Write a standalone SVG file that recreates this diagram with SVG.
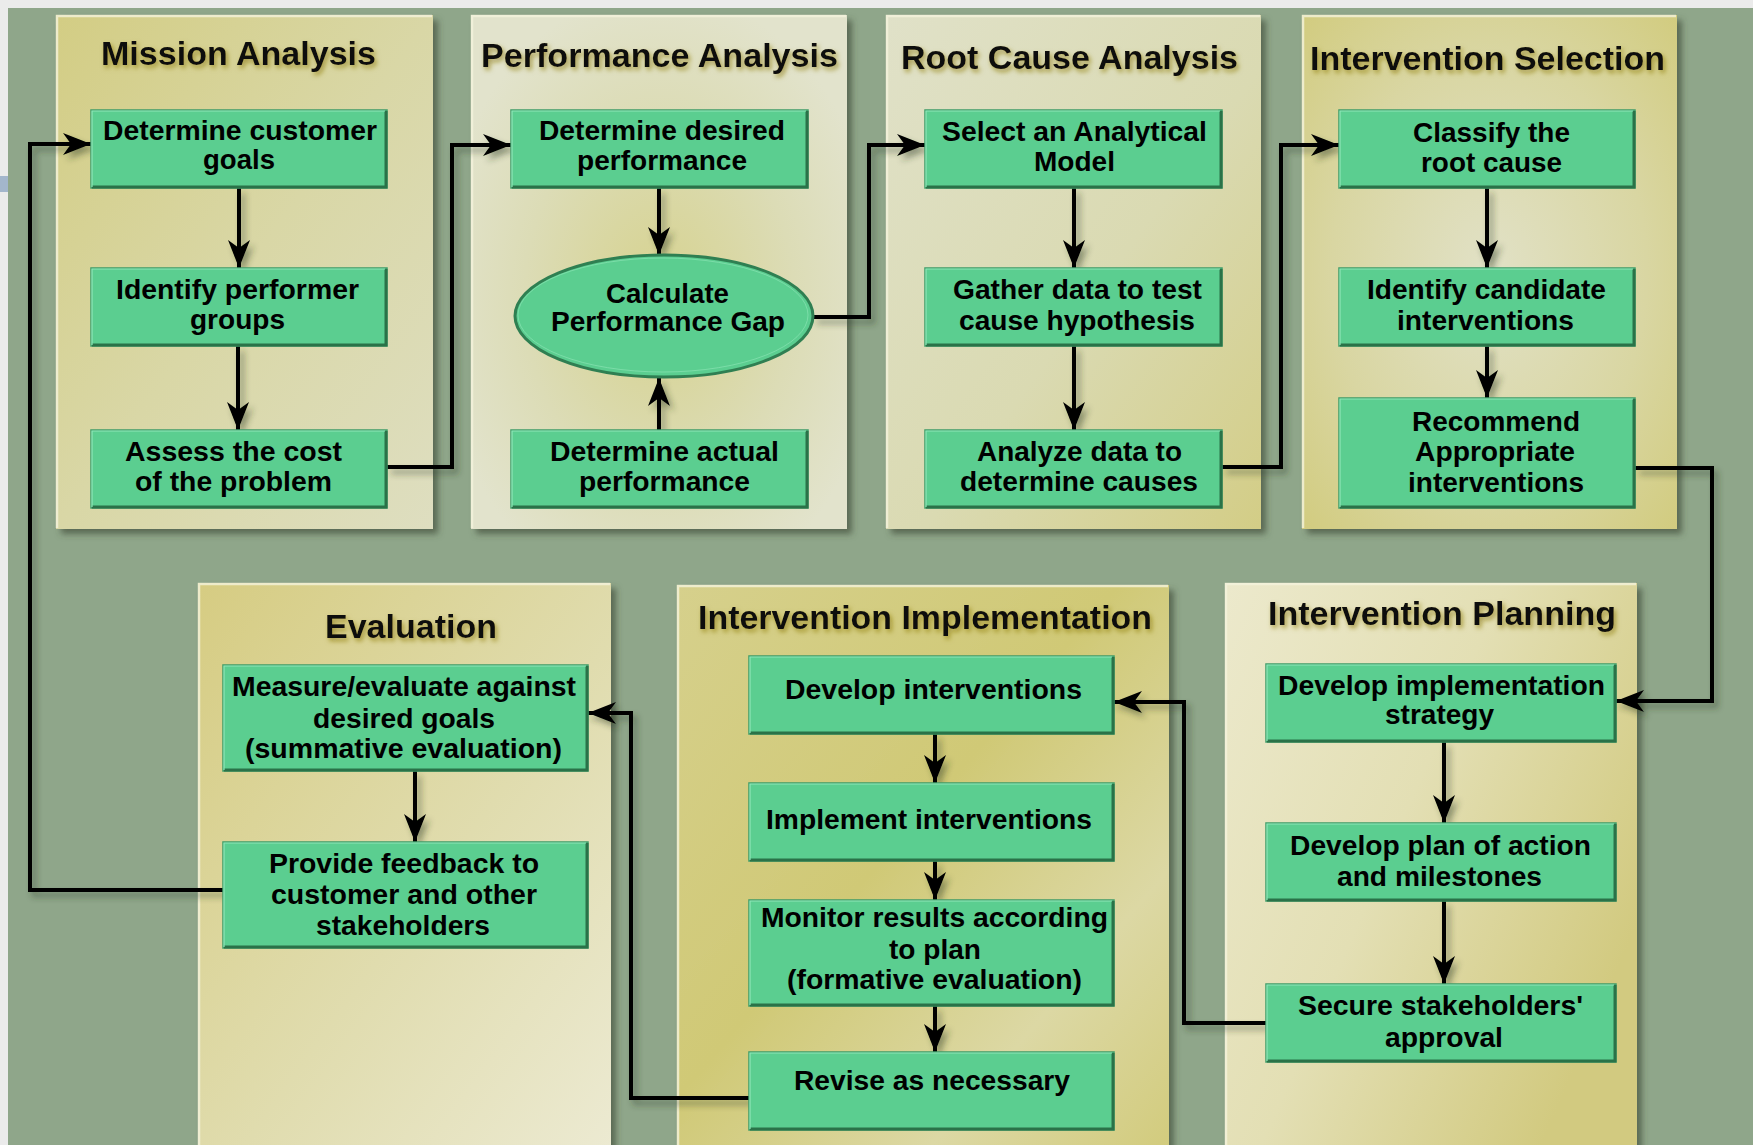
<svg xmlns="http://www.w3.org/2000/svg" width="1753" height="1145" viewBox="0 0 1753 1145">
<defs>
<style>
.bg{fill:#8fa68a}
.panel{stroke:none}
.bevel{fill:none;stroke:#f4f2dc;stroke-width:2.5;opacity:.8}
.box{fill:#5bce90;stroke:#3f9c68;stroke-width:1.5}
.edge{fill:none;stroke:#2a7248;stroke-width:3}
.hl{fill:none;stroke:#8fe6b8;stroke-width:1.2}
.t{font-family:"Liberation Sans",Arial,Helvetica,sans-serif;font-weight:bold;font-size:27px;fill:#000}
.title{font-family:"Liberation Sans",Arial,Helvetica,sans-serif;font-weight:bold;font-size:34px;fill:#111}
.c{fill:none;stroke:#000;stroke-width:4;stroke-linejoin:miter;marker-end:url(#ah)}
.cn{fill:none;stroke:#000;stroke-width:4;stroke-linejoin:miter}
</style>
<marker id="ah" markerUnits="userSpaceOnUse" viewBox="-30 -12 32 24" refX="0" refY="0" markerWidth="32" markerHeight="24" orient="auto">
<path d="M0,0 L-28,-11 L-20,0 L-28,11 Z" fill="#000"/>
</marker>
<filter id="psh" x="-5%" y="-5%" width="115%" height="115%">
<feDropShadow dx="5" dy="5" stdDeviation="3" flood-color="#3c4a34" flood-opacity="0.65"/>
</filter>
<filter id="lsh" x="-10%" y="-10%" width="120%" height="120%">
<feDropShadow dx="4" dy="5" stdDeviation="3" flood-color="#2e3a28" flood-opacity="0.45"/>
</filter>
<filter id="tsh" x="-10%" y="-30%" width="120%" height="160%">
<feDropShadow dx="2" dy="3" stdDeviation="2.5" flood-color="#8c7a0e" flood-opacity="0.7"/>
</filter>
<linearGradient id="gMission" x1="0" y1="0" x2="1" y2="1">
<stop offset="0" stop-color="#d3cd84"/><stop offset="0.5" stop-color="#d9d7a6"/><stop offset="1" stop-color="#dedec0"/>
</linearGradient>
<radialGradient id="gPerf" cx="0.5" cy="0.55" r="0.6">
<stop offset="0" stop-color="#d6d28e"/><stop offset="0.6" stop-color="#dcdcb6"/><stop offset="1" stop-color="#e2e3cc"/>
</radialGradient>
<linearGradient id="gRoot" x1="0" y1="0" x2="1" y2="1">
<stop offset="0" stop-color="#e0e1c8"/><stop offset="0.55" stop-color="#dadab2"/><stop offset="1" stop-color="#d3cd86"/>
</linearGradient>
<radialGradient id="gSel" cx="0.5" cy="0.5" r="0.7">
<stop offset="0" stop-color="#e1e1c6"/><stop offset="0.6" stop-color="#d9d6a2"/><stop offset="1" stop-color="#d2cc80"/>
</radialGradient>
<linearGradient id="gEval" x1="0" y1="0" x2="1" y2="1">
<stop offset="0" stop-color="#d6cc82"/><stop offset="0.55" stop-color="#e0dcae"/><stop offset="1" stop-color="#ecead2"/>
</linearGradient>
<linearGradient id="gImpl" x1="0" y1="0" x2="1" y2="1">
<stop offset="0" stop-color="#d6d08c"/><stop offset="0.45" stop-color="#d0c976"/><stop offset="0.75" stop-color="#dcd8a4"/><stop offset="1" stop-color="#d2cb7c"/>
</linearGradient>
<linearGradient id="gPlan" x1="0" y1="0" x2="1" y2="0.6">
<stop offset="0" stop-color="#ece9cc"/><stop offset="0.5" stop-color="#e3dfb4"/><stop offset="1" stop-color="#d2ca80"/>
</linearGradient>
</defs>

<rect class="bg" x="0" y="0" width="1753" height="1145"/>
<rect x="0" y="0" width="1753" height="8" fill="#ebebeb"/>
<rect x="0" y="0" width="8" height="1145" fill="#ebebeb"/>
<rect x="0" y="176" width="8" height="16" fill="#a3b6cc"/>

<g id="panels">
<g id="panel-mission" filter="url(#psh)"><rect class="panel" x="56" y="15" width="377" height="514" fill="url(#gMission)"/></g>
<g id="panel-performance" filter="url(#psh)"><rect class="panel" x="471" y="15" width="376" height="514" fill="url(#gPerf)"/></g>
<g id="panel-rootcause" filter="url(#psh)"><rect class="panel" x="886" y="15" width="375" height="514" fill="url(#gRoot)"/></g>
<g id="panel-selection" filter="url(#psh)"><rect class="panel" x="1302" y="15" width="375" height="514" fill="url(#gSel)"/></g>
<g id="panel-evaluation" filter="url(#psh)"><rect class="panel" x="198" y="583" width="413" height="570" fill="url(#gEval)"/></g>
<g id="panel-implementation" filter="url(#psh)"><rect class="panel" x="677" y="585" width="492" height="570" fill="url(#gImpl)"/></g>
<g id="panel-planning" filter="url(#psh)"><rect class="panel" x="1225" y="583" width="412" height="570" fill="url(#gPlan)"/></g>
<path class="bevel" d="M57,528 V16 H432 M472,528 V16 H846 M887,528 V16 H1260 M1303,528 V16 H1676 M199,1145 V584 H610 M678,1145 V586 H1168 M1226,1145 V584 H1636"/>
</g>

<g id="titles" filter="url(#tsh)">
<text class="title" x="101" y="65" textLength="275" lengthAdjust="spacingAndGlyphs">Mission Analysis</text>
<text class="title" x="481" y="67" textLength="357" lengthAdjust="spacingAndGlyphs">Performance Analysis</text>
<text class="title" x="901" y="69" textLength="337" lengthAdjust="spacingAndGlyphs">Root Cause Analysis</text>
<text class="title" x="1310" y="70" textLength="355" lengthAdjust="spacingAndGlyphs">Intervention Selection</text>
<text class="title" x="325" y="638" textLength="172" lengthAdjust="spacingAndGlyphs">Evaluation</text>
<text class="title" x="698" y="629" textLength="454" lengthAdjust="spacingAndGlyphs">Intervention Implementation</text>
<text class="title" x="1268" y="625" textLength="348" lengthAdjust="spacingAndGlyphs">Intervention Planning</text>
</g>

<g id="connectors" filter="url(#lsh)">
<path class="c" d="M239,188 V268"/>
<path class="c" d="M238,346 V430"/>
<path class="c" d="M387,467 H452 V145 H511"/>
<path class="c" d="M659,188 V255"/>
<path class="c" d="M659,430 V378"/>
<path class="c" d="M813,317 H869 V145 H925"/>
<path class="c" d="M1074,188 V268"/>
<path class="c" d="M1074,346 V430"/>
<path class="c" d="M1222,467 H1281 V145 H1339"/>
<path class="c" d="M1487,188 V268"/>
<path class="c" d="M1487,346 V398"/>
<path class="c" d="M1635,468 H1712 V701 H1616"/>
<path class="c" d="M1444,742 V823"/>
<path class="c" d="M1444,901 V984"/>
<path class="c" d="M1266,1023 H1184 V702 H1114"/>
<path class="c" d="M935,734 V783"/>
<path class="c" d="M935,861 V900"/>
<path class="c" d="M935,1006 V1052"/>
<path class="c" d="M749,1098 H631 V713 H588"/>
<path class="c" d="M415,771 V842"/>
<path class="c" d="M223,890 H30 V144 H91"/>
</g>

<g id="n-customer-goals">
<rect class="box" x="91" y="110" width="296" height="78"/><path class="edge" d="M92,187 H386 V111"/><path class="hl" d="M92,187 V111 H385"/>
<text class="t" x="103" y="140" textLength="274" lengthAdjust="spacingAndGlyphs">Determine customer</text>
<text class="t" x="203" y="169" textLength="72" lengthAdjust="spacingAndGlyphs">goals</text>
</g>
<g id="n-performer-groups">
<rect class="box" x="91" y="268" width="296" height="78"/><path class="edge" d="M92,345 H386 V269"/><path class="hl" d="M92,345 V269 H385"/>
<text class="t" x="116" y="299" textLength="243" lengthAdjust="spacingAndGlyphs">Identify performer</text>
<text class="t" x="190" y="329" textLength="95" lengthAdjust="spacingAndGlyphs">groups</text>
</g>
<g id="n-assess-cost">
<rect class="box" x="91" y="430" width="296" height="78"/><path class="edge" d="M92,507 H386 V431"/><path class="hl" d="M92,507 V431 H385"/>
<text class="t" x="125" y="461" textLength="217" lengthAdjust="spacingAndGlyphs">Assess the cost</text>
<text class="t" x="135" y="491" textLength="197" lengthAdjust="spacingAndGlyphs">of the problem</text>
</g>

<g id="n-desired-performance">
<rect class="box" x="511" y="110" width="297" height="78"/><path class="edge" d="M512,187 H807 V111"/><path class="hl" d="M512,187 V111 H806"/>
<text class="t" x="539" y="140" textLength="246" lengthAdjust="spacingAndGlyphs">Determine desired</text>
<text class="t" x="577" y="170" textLength="170" lengthAdjust="spacingAndGlyphs">performance</text>
</g>
<g id="n-performance-gap">
<ellipse cx="664" cy="316" rx="149" ry="61" fill="#5bce90" stroke="#2f7f52" stroke-width="3"/>
<ellipse cx="663" cy="315" rx="145" ry="57" fill="none" stroke="#8fe6b8" stroke-width="1" opacity="0.6"/>
<text class="t" x="606" y="303" textLength="123" lengthAdjust="spacingAndGlyphs">Calculate</text>
<text class="t" x="551" y="331" textLength="234" lengthAdjust="spacingAndGlyphs">Performance Gap</text>
</g>
<g id="n-actual-performance">
<rect class="box" x="511" y="430" width="297" height="78"/><path class="edge" d="M512,507 H807 V431"/><path class="hl" d="M512,507 V431 H806"/>
<text class="t" x="550" y="461" textLength="229" lengthAdjust="spacingAndGlyphs">Determine actual</text>
<text class="t" x="579" y="491" textLength="171" lengthAdjust="spacingAndGlyphs">performance</text>
</g>

<g id="n-analytical-model">
<rect class="box" x="925" y="110" width="297" height="78"/><path class="edge" d="M926,187 H1221 V111"/><path class="hl" d="M926,187 V111 H1220"/>
<text class="t" x="942" y="141" textLength="265" lengthAdjust="spacingAndGlyphs">Select an Analytical</text>
<text class="t" x="1034" y="171" textLength="81" lengthAdjust="spacingAndGlyphs">Model</text>
</g>
<g id="n-gather-data">
<rect class="box" x="925" y="268" width="297" height="78"/><path class="edge" d="M926,345 H1221 V269"/><path class="hl" d="M926,345 V269 H1220"/>
<text class="t" x="953" y="299" textLength="249" lengthAdjust="spacingAndGlyphs">Gather data to test</text>
<text class="t" x="959" y="330" textLength="236" lengthAdjust="spacingAndGlyphs">cause hypothesis</text>
</g>
<g id="n-analyze-data">
<rect class="box" x="925" y="430" width="297" height="78"/><path class="edge" d="M926,507 H1221 V431"/><path class="hl" d="M926,507 V431 H1220"/>
<text class="t" x="977" y="461" textLength="205" lengthAdjust="spacingAndGlyphs">Analyze data to</text>
<text class="t" x="960" y="491" textLength="238" lengthAdjust="spacingAndGlyphs">determine causes</text>
</g>

<g id="n-classify-root">
<rect class="box" x="1339" y="110" width="296" height="78"/><path class="edge" d="M1340,187 H1634 V111"/><path class="hl" d="M1340,187 V111 H1633"/>
<text class="t" x="1413" y="142" textLength="157" lengthAdjust="spacingAndGlyphs">Classify the</text>
<text class="t" x="1421" y="172" textLength="141" lengthAdjust="spacingAndGlyphs">root cause</text>
</g>
<g id="n-candidate-interventions">
<rect class="box" x="1339" y="268" width="296" height="78"/><path class="edge" d="M1340,345 H1634 V269"/><path class="hl" d="M1340,345 V269 H1633"/>
<text class="t" x="1367" y="299" textLength="239" lengthAdjust="spacingAndGlyphs">Identify candidate</text>
<text class="t" x="1397" y="330" textLength="177" lengthAdjust="spacingAndGlyphs">interventions</text>
</g>
<g id="n-recommend">
<rect class="box" x="1339" y="398" width="296" height="110"/><path class="edge" d="M1340,507 H1634 V399"/><path class="hl" d="M1340,507 V399 H1633"/>
<text class="t" x="1412" y="431" textLength="168" lengthAdjust="spacingAndGlyphs">Recommend</text>
<text class="t" x="1415" y="461" textLength="160" lengthAdjust="spacingAndGlyphs">Appropriate</text>
<text class="t" x="1408" y="492" textLength="176" lengthAdjust="spacingAndGlyphs">interventions</text>
</g>

<g id="n-measure">
<rect class="box" x="223" y="665" width="365" height="106"/><path class="edge" d="M224,770 H587 V666"/><path class="hl" d="M224,770 V666 H586"/>
<text class="t" x="232" y="696" textLength="344" lengthAdjust="spacingAndGlyphs">Measure/evaluate against</text>
<text class="t" x="313" y="728" textLength="182" lengthAdjust="spacingAndGlyphs">desired goals</text>
<text class="t" x="245" y="758" textLength="317" lengthAdjust="spacingAndGlyphs">(summative evaluation)</text>
</g>
<g id="n-feedback">
<rect class="box" x="223" y="842" width="365" height="106"/><path class="edge" d="M224,947 H587 V843"/><path class="hl" d="M224,947 V843 H586"/>
<text class="t" x="269" y="873" textLength="270" lengthAdjust="spacingAndGlyphs">Provide feedback to</text>
<text class="t" x="271" y="904" textLength="266" lengthAdjust="spacingAndGlyphs">customer and other</text>
<text class="t" x="316" y="935" textLength="174" lengthAdjust="spacingAndGlyphs">stakeholders</text>
</g>

<g id="n-develop-interventions">
<rect class="box" x="749" y="656" width="365" height="78"/><path class="edge" d="M750,733 H1113 V657"/><path class="hl" d="M750,733 V657 H1112"/>
<text class="t" x="785" y="699" textLength="297" lengthAdjust="spacingAndGlyphs">Develop interventions</text>
</g>
<g id="n-implement">
<rect class="box" x="749" y="783" width="365" height="78"/><path class="edge" d="M750,860 H1113 V784"/><path class="hl" d="M750,860 V784 H1112"/>
<text class="t" x="766" y="829" textLength="326" lengthAdjust="spacingAndGlyphs">Implement interventions</text>
</g>
<g id="n-monitor">
<rect class="box" x="749" y="900" width="365" height="106"/><path class="edge" d="M750,1005 H1113 V901"/><path class="hl" d="M750,1005 V901 H1112"/>
<text class="t" x="761" y="927" textLength="347" lengthAdjust="spacingAndGlyphs">Monitor results according</text>
<text class="t" x="889" y="959" textLength="92" lengthAdjust="spacingAndGlyphs">to plan</text>
<text class="t" x="787" y="989" textLength="295" lengthAdjust="spacingAndGlyphs">(formative evaluation)</text>
</g>
<g id="n-revise">
<rect class="box" x="749" y="1052" width="365" height="78"/><path class="edge" d="M750,1129 H1113 V1053"/><path class="hl" d="M750,1129 V1053 H1112"/>
<text class="t" x="794" y="1090" textLength="276" lengthAdjust="spacingAndGlyphs">Revise as necessary</text>
</g>

<g id="n-impl-strategy">
<rect class="box" x="1266" y="664" width="350" height="78"/><path class="edge" d="M1267,741 H1615 V665"/><path class="hl" d="M1267,741 V665 H1614"/>
<text class="t" x="1278" y="695" textLength="327" lengthAdjust="spacingAndGlyphs">Develop implementation</text>
<text class="t" x="1385" y="724" textLength="109" lengthAdjust="spacingAndGlyphs">strategy</text>
</g>
<g id="n-plan-action">
<rect class="box" x="1266" y="823" width="350" height="78"/><path class="edge" d="M1267,900 H1615 V824"/><path class="hl" d="M1267,900 V824 H1614"/>
<text class="t" x="1290" y="855" textLength="301" lengthAdjust="spacingAndGlyphs">Develop plan of action</text>
<text class="t" x="1337" y="886" textLength="205" lengthAdjust="spacingAndGlyphs">and milestones</text>
</g>
<g id="n-secure-approval">
<rect class="box" x="1266" y="984" width="350" height="78"/><path class="edge" d="M1267,1061 H1615 V985"/><path class="hl" d="M1267,1061 V985 H1614"/>
<text class="t" x="1298" y="1015" textLength="285" lengthAdjust="spacingAndGlyphs">Secure stakeholders'</text>
<text class="t" x="1385" y="1047" textLength="118" lengthAdjust="spacingAndGlyphs">approval</text>
</g>
</svg>
